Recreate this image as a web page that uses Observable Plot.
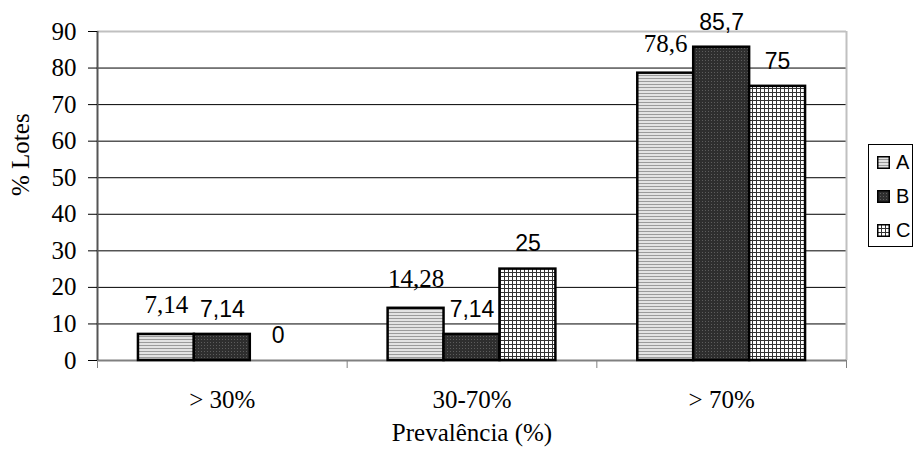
<!DOCTYPE html>
<html>
<head>
<meta charset="utf-8">
<script src="https://cdn.jsdelivr.net/npm/d3@7"></script>
<script src="https://cdn.jsdelivr.net/npm/@observablehq/plot@0.6"></script>
<style>
  body { margin: 0; background: #fff; }
  #wrap { position: relative; width: 916px; height: 458px; background: #fff; }
  #legend { position: absolute; left: 868px; top: 144px; width: 45px; height: 103px;
            border: 1px solid #000; background: #fff; box-sizing: border-box;
            font-family: "Liberation Sans", Arial, sans-serif; font-size: 20px; }
  .row { position: absolute; left: 8px; height: 20px; display: flex; align-items: center; }
  .row svg { margin-right: 6px; }
</style>
</head>
<body>
<div id="wrap">
  <svg width="0" height="0" style="position:absolute">
    <defs>
      <pattern id="patA" width="4" height="3" patternUnits="userSpaceOnUse">
        <rect width="4" height="3" fill="#e2e2e2"/>
        <rect width="4" height="1" fill="#9a9a9a"/>
      </pattern>
      <pattern id="patB" width="3" height="3" patternUnits="userSpaceOnUse">
        <rect width="3" height="3" fill="#2e2e2e"/>
        <rect width="1" height="1" fill="#5c5c5c"/>
      </pattern>
      <pattern id="patC" width="4" height="4" patternUnits="userSpaceOnUse">
        <rect width="4" height="4" fill="#ffffff"/>
        <rect width="4" height="1" fill="#333333"/>
        <rect width="1" height="4" fill="#333333"/>
      </pattern>
    </defs>
  </svg>
  <div id="chart"></div>
  <div id="legend"></div>
</div>
<script>
const groups = ["> 30%", "30-70%", "> 70%"];
const seriesNames = ["A", "B", "C"];
const valuesA = [7.14, 14.28, 78.6];
const valuesB = [7.14, 7.14, 85.7];
const valuesC = [0, 25, 75];
const yTicks = [0, 10, 20, 30, 40, 50, 60, 70, 80, 90];
const xLabel = "Prevalência (%)";
const yLabel = "% Lotes";

const allValues = {A: valuesA, B: valuesB, C: valuesC};
const rows = [];
seriesNames.forEach((s, si) => {
  allValues[s].forEach((v, gi) => {
    rows.push({series: s, si, gi, group: groups[gi], value: v, label: String(v).replace(".", ",")});
  });
});

const OFF = 0.164, BW = 0.224;
const x1 = d => d.gi + OFF + d.si * BW;
const x2 = d => d.gi + OFF + (d.si + 1) * BW;
const xc = d => d.gi + OFF + (d.si + 0.5) * BW;

const serif = "'Liberation Serif', 'Times New Roman', serif";
const sans = "'Liberation Sans', Arial, sans-serif";

const barMarks = seriesNames.map(s =>
  Plot.rectY(rows.filter(d => d.series === s && d.value > 0), {
    x1, x2, y1: 0, y2: "value", fill: `url(#pat${s})`, stroke: "#000", strokeWidth: 2.5
  })
);

const chart = Plot.plot({
  width: 916, height: 458,
  marginLeft: 97, marginRight: 70, marginTop: 31, marginBottom: 98,
  style: {fontFamily: serif, fontSize: "25px", color: "#000", background: "#fff", overflow: "visible"},
  x: {type: "linear", domain: [0, 3], axis: null},
  y: {type: "linear", domain: [0, 90], axis: null},
  marks: [
    Plot.ruleY(yTicks.filter(t => t > 0 && t < 90), {stroke: "#000", strokeWidth: 1}),
    Plot.ruleY([90], {stroke: "#c0c0c0", strokeWidth: 2}),
    Plot.ruleX([3], {stroke: "#c0c0c0", strokeWidth: 2}),
    Plot.ruleY([0], {stroke: "#808080", strokeWidth: 2}),
    Plot.axisX({ticks: [0, 1, 2, 3], tickSize: 8, tickFormat: () => "", stroke: "#808080"}),
    Plot.axisX({ticks: [0.5, 1.5, 2.5], tickSize: 0, tickPadding: 30,
      tickFormat: t => groups[Math.floor(t)], fontSize: 25, fontFamily: serif, label: null}),
    ...barMarks,
    Plot.ruleX([0], {stroke: "#555", strokeWidth: 2}),
    Plot.axisY({ticks: yTicks, tickSize: 9, tickPadding: 12, tickFormat: d => String(d),
      fontSize: 25, fontFamily: serif, label: null}),
    Plot.text(rows.filter(d => d.series === "A"), {x: xc, y: "value", text: "label",
      dy: -29, fontSize: 25, fontFamily: serif}),
    Plot.text(rows.filter(d => d.series !== "A"), {x: xc, y: "value", text: "label",
      dy: -25, fontSize: 23, fontFamily: sans}),
    Plot.text([xLabel], {text: d => d, frameAnchor: "bottom", dy: 80, fontSize: 25, fontFamily: serif}),
    Plot.text([yLabel], {text: d => d, frameAnchor: "left", dx: -77, rotate: -90, fontSize: 25, fontFamily: serif})
  ]
});
document.getElementById("chart").appendChild(chart);

const legend = document.getElementById("legend");
seriesNames.forEach((s, i) => {
  const row = document.createElement("div");
  row.className = "row";
  row.style.top = (7 + i * 34) + "px";
  row.innerHTML = `<svg width="13" height="13"><rect x="0.75" y="0.75" width="11.5" height="11.5" fill="url(#pat${s})" stroke="#000" stroke-width="1.5"/></svg><span>${s}</span>`;
  legend.appendChild(row);
});
</script>
</body>
</html>
